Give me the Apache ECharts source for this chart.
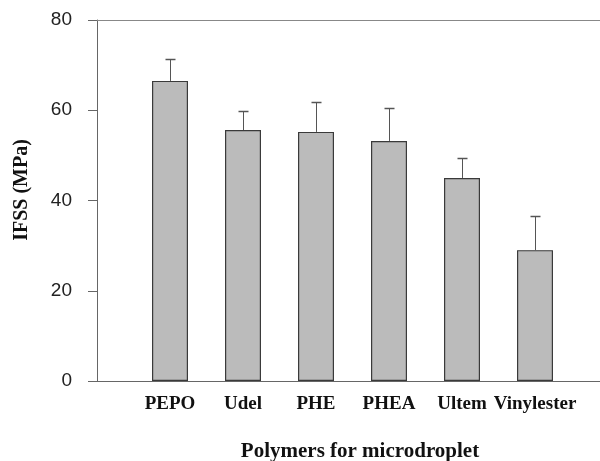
<!DOCTYPE html>
<html>
<head>
<meta charset="utf-8">
<script src="https://cdn.jsdelivr.net/npm/echarts@6/dist/echarts.min.js"></script>
<style>html,body{margin:0;padding:0;background:#fff}#c{width:600px;height:461px}</style>
</head>
<body>
<div id="c"></div>
<script>
var categories = ['PEPO', 'Udel', 'PHE', 'PHEA', 'Ultem', 'Vinylester'];
var ifss = [66.5, 55.6, 55.2, 53.2, 45.0, 29.0];
var errors = [4.9, 4.3, 6.7, 7.3, 4.4, 7.6];
var yTicks = [0, 20, 40, 60, 80];

var chart = echarts.init(document.getElementById('c'), null, {renderer: 'canvas'});
var serif = '"Liberation Serif", "Times New Roman", serif';
var sans = '"Liberation Sans", Arial, sans-serif';
var axisColor = '#666';

chart.setOption({
  animation: false,
  backgroundColor: '#fff',
  title: {
    text: 'Polymers for microdroplet',
    left: 360, top: 441, textAlign: 'center', padding: 0,
    textStyle: {fontFamily: serif, fontWeight: 'bold', fontSize: 21, color: '#111'}
  },
  graphic: [
    {type: 'text', x: 22, y: 190, rotation: Math.PI / 2,
     style: {text: 'IFSS (MPa)', textAlign: 'center', textVerticalAlign: 'middle',
       font: 'bold 20px "Liberation Serif", serif', fill: '#111'}}
  ],
  grid: [
    {left: 97, right: 0, top: 20, bottom: 80},
    {left: 133.5, right: 28.5, top: 20, bottom: 80}
  ],
  xAxis: [
    {gridIndex: 0, type: 'value', min: 0, max: 1, position: 'bottom',
     axisLine: {show: true, lineStyle: {color: axisColor, width: 1}},
     axisTick: {show: false}, axisLabel: {show: false}, splitLine: {show: false}},
    {gridIndex: 0, type: 'value', min: 0, max: 1, position: 'top',
     axisLine: {show: true, lineStyle: {color: '#888', width: 1}},
     axisTick: {show: false}, axisLabel: {show: false}, splitLine: {show: false}},
    {gridIndex: 1, type: 'category', data: categories,
     axisLine: {show: false}, axisTick: {show: false}, splitLine: {show: false},
     axisLabel: {margin: 14, fontFamily: serif, fontWeight: 'bold', fontSize: 19, color: '#111', interval: 0}}
  ],
  yAxis: [
    {gridIndex: 0, type: 'value', min: 0, max: 80, interval: 20,
     axisLine: {show: true, lineStyle: {color: axisColor, width: 1}},
     axisTick: {show: true, inside: false, length: 9, lineStyle: {color: axisColor}},
     axisLabel: {margin: 25, fontFamily: sans, fontSize: 19, color: '#222',
       formatter: function (v) { return yTicks.indexOf(v) >= 0 ? String(v) : ''; }},
     splitLine: {show: false}},
    {gridIndex: 1, type: 'value', min: 0, max: 80, interval: 20, show: false}
  ],
  series: [
    {type: 'bar', xAxisIndex: 2, yAxisIndex: 1, data: ifss, barWidth: 36,
     itemStyle: {color: '#bbbbbb', borderColor: '#3a3a3a', borderWidth: 1.2}, z: 2},
    {type: 'custom', xAxisIndex: 2, yAxisIndex: 1, z: 1,
     data: ifss.map(function (v, i) { return [i, v, v + errors[i]]; }),
     renderItem: function (params, api) {
       var base = api.coord([api.value(0), api.value(1)]);
       var top = api.coord([api.value(0), api.value(2)]);
       var x = Math.round(base[0]) + 0.5;
       return {type: 'group', children: [
         {type: 'line', shape: {x1: x, y1: base[1], x2: x, y2: Math.round(top[1]) + 0.5},
          style: {stroke: '#555', lineWidth: 1}},
         {type: 'line', shape: {x1: x - 5, y1: Math.round(top[1]) + 0.5, x2: x + 5, y2: Math.round(top[1]) + 0.5},
          style: {stroke: '#555', lineWidth: 1.5}}
       ]};
     }}
  ]
});
</script>
</body>
</html>
